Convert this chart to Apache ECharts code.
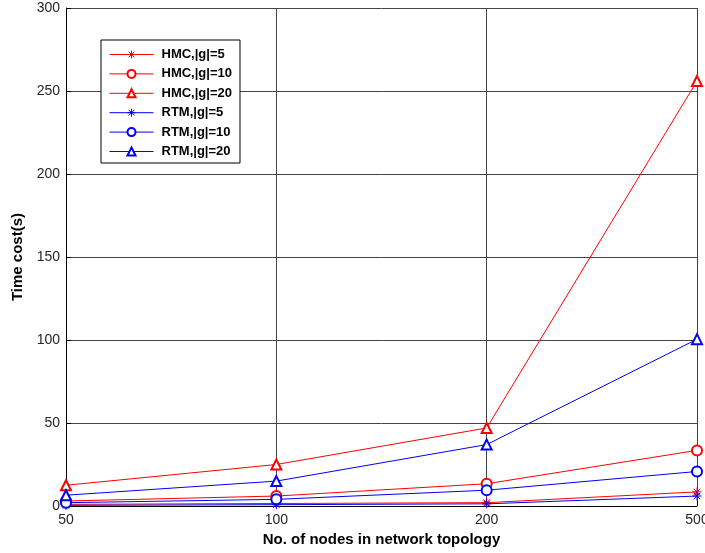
<!DOCTYPE html>
<html>
<head>
<meta charset="utf-8">
<script src="https://cdn.jsdelivr.net/npm/echarts@6/dist/echarts.min.js"></script>
<style>
  html, body { margin: 0; padding: 0; background: #fff; }
  #chart { width: 705px; height: 553px; }
</style>
</head>
<body>
<div id="chart"></div>
<script>
// Network sizes (number of nodes) on the x axis
const nodeCounts = ['50', '100', '200', '500'];

// Time cost in seconds for each method and group size
const hmcG5  = [1.0, 1.5, 2.0, 8.5];
const hmcG10 = [3.0, 6.0, 13.4, 33.5];
const hmcG20 = [12.5, 25.0, 47.0, 256];
const rtmG5  = [0.4, 0.8, 1.3, 6.0];
const rtmG10 = [2.0, 4.0, 9.5, 20.8];
const rtmG20 = [6.5, 15.0, 37.0, 100.5];

const seriesNames = ['HMC,|g|=5', 'HMC,|g|=10', 'HMC,|g|=20', 'RTM,|g|=5', 'RTM,|g|=10', 'RTM,|g|=20'];

const RED = '#ff0000';
const BLUE = '#0000ff';
const ASTERISK = 'path://M0,-5L0,5M-5,0L5,0M-3.6,-3.6L3.6,3.6M-3.6,3.6L3.6,-3.6';

function makeSeries(name, data, color, symbol) {
  const isStar = symbol === ASTERISK;
  return {
    name: name,
    type: 'line',
    data: data,
    symbol: symbol,
    symbolSize: isStar ? 9 : 10,
    showAllSymbol: true,
    lineStyle: { color: color, width: 1 },
    itemStyle: { color: color, borderColor: color, borderWidth: 1 },
    emphasis: { disabled: true },
    animation: false
  };
}

const chart = echarts.init(document.getElementById('chart'), null, { renderer: 'canvas' });

const axisFont = { fontFamily: 'Liberation Sans, Arial, sans-serif', fontSize: 14, color: '#262626' };
const nameFont = { fontFamily: 'Liberation Sans, Arial, sans-serif', fontSize: 15, fontWeight: 'bold', color: '#000' };

chart.setOption({
  backgroundColor: '#ffffff',
  animation: false,
  grid: { left: 66, right: 8, top: 8, bottom: 47, containLabel: false, outerBoundsMode: 'none' },
  legend: {
    orient: 'vertical',
    left: 101,
    top: 40,
    data: seriesNames,
    backgroundColor: '#ffffff',
    borderColor: '#000',
    borderWidth: 1,
    padding: [8, 8, 5, 8],
    itemWidth: 44,
    itemHeight: 10,
    itemGap: 6.4,
    selectedMode: false,
    lineStyle: { width: 1 },
    itemStyle: { borderWidth: 1 },
    textStyle: { fontFamily: 'Liberation Sans, Arial, sans-serif', fontSize: 13, fontWeight: 'bold', color: '#000', padding: [0, 0, 0, 3] }
  },
  xAxis: {
    type: 'category',
    data: nodeCounts,
    boundaryGap: false,
    name: 'No. of nodes in network topology',
    nameLocation: 'middle',
    nameGap: 24,
    nameTextStyle: nameFont,
    axisLine: { lineStyle: { color: '#000', width: 1 } },
    axisTick: { inside: true, length: 5, lineStyle: { color: '#000' } },
    axisLabel: Object.assign({ margin: 7 }, axisFont),
    splitLine: { show: true, lineStyle: { color: '#444', width: 1 } }
  },
  yAxis: {
    type: 'value',
    min: 0,
    max: 300,
    interval: 50,
    name: 'Time cost(s)',
    nameLocation: 'middle',
    nameGap: 37,
    nameTextStyle: nameFont,
    axisLine: { show: true, lineStyle: { color: '#000', width: 1 } },
    axisTick: { show: true, inside: true, length: 5, lineStyle: { color: '#000' } },
    axisLabel: Object.assign({ margin: 6 }, axisFont),
    splitLine: { show: true, lineStyle: { color: '#444', width: 1 } }
  },
  series: [
    makeSeries(seriesNames[0], hmcG5, RED, ASTERISK),
    makeSeries(seriesNames[1], hmcG10, RED, 'emptyCircle'),
    makeSeries(seriesNames[2], hmcG20, RED, 'emptyTriangle'),
    makeSeries(seriesNames[3], rtmG5, BLUE, ASTERISK),
    makeSeries(seriesNames[4], rtmG10, BLUE, 'emptyCircle'),
    makeSeries(seriesNames[5], rtmG20, BLUE, 'emptyTriangle')
  ]
});
</script>
</body>
</html>
